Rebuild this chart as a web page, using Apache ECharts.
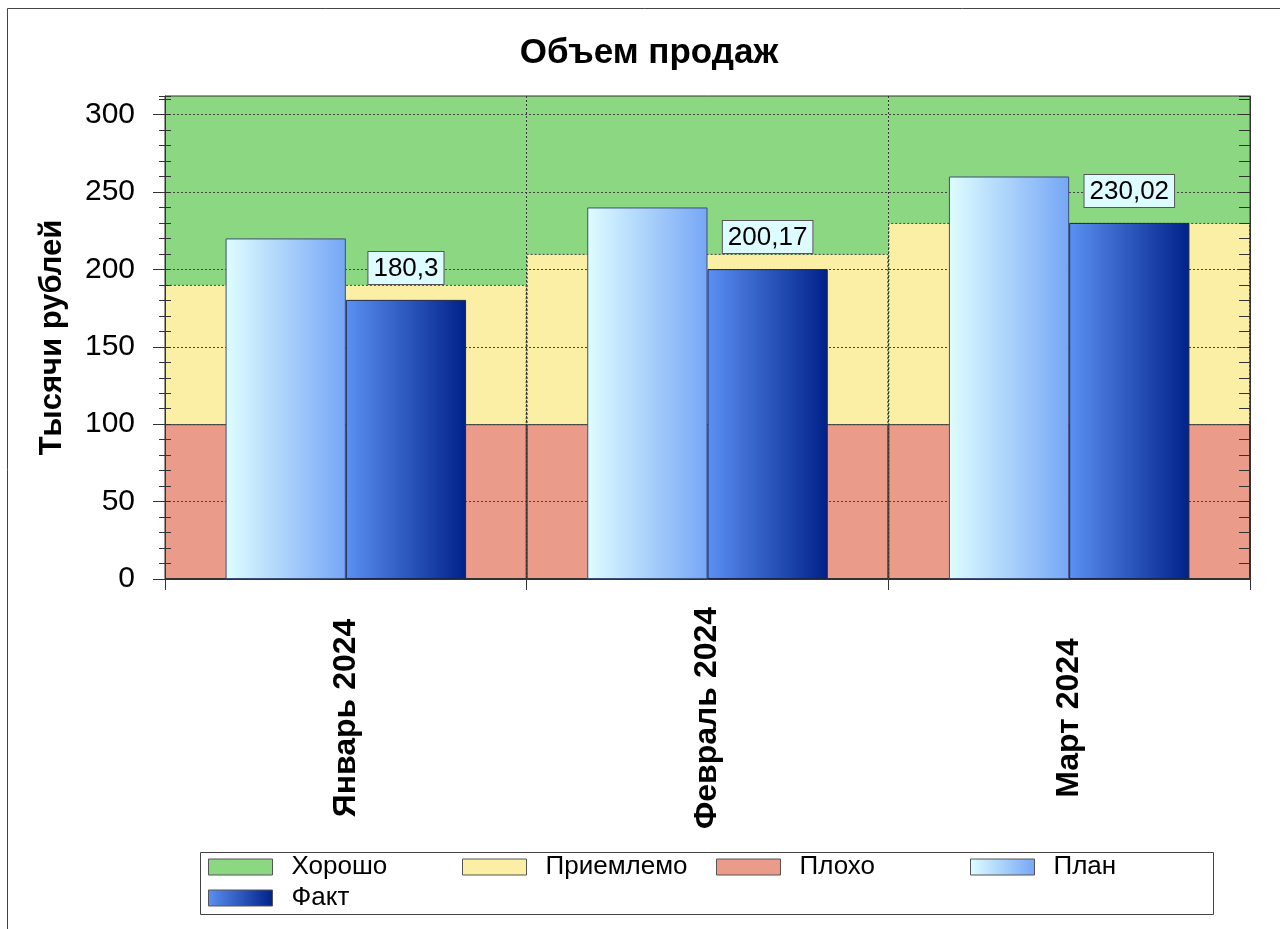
<!DOCTYPE html>
<html>
<head>
<meta charset="utf-8">
<script src="https://cdn.jsdelivr.net/npm/echarts@6/dist/echarts.min.js"></script>
<style>html,body{margin:0;padding:0;background:#fff}#c{width:1280px;height:929px}</style>
</head>
<body>
<div id="c"></div>
<script>
// ---- data ----
const categories = ['Январь 2024', 'Февраль 2024', 'Март 2024'];
const plan = [220, 240, 260];
const fact = [180.3, 200.17, 230.02];
const bandPoorTop = [100, 100, 100];       // Плохо: 0..100
const bandAcceptTop = [190, 210, 230];     // Приемлемо: 100..x
const axisMax = 312;
const bandGoodTop = [axisMax, axisMax, axisMax]; // Хорошо: x..top
const yMajorTicks = [0, 50, 100, 150, 200, 250, 300];

const FONT = "'Liberation Sans', Arial, sans-serif";
const chart = echarts.init(document.getElementById('c'), null, {renderer: 'canvas'});

const planGrad = new echarts.graphic.LinearGradient(0, 0, 1, 0, [
  {offset: 0, color: '#defdff'}, {offset: 1, color: '#76a6f6'}]);
const factGrad = new echarts.graphic.LinearGradient(0, 0, 1, 0, [
  {offset: 0, color: '#5b90f2'}, {offset: 1, color: '#00218a'}]);

function legendItem(name, left, top) {
  return {
    data: [name], left: left, top: top, padding: 0,
    itemWidth: 64, itemHeight: 16, icon: 'rect',
    itemStyle: {borderColor: '#555', borderWidth: 1, borderType: 'solid'},
    textStyle: {fontFamily: FONT, fontSize: 26, color: '#000', lineHeight: 30, padding: [0, 0, 0, 14]},
    selectedMode: false
  };
}

const option = {
  animation: false,
  title: {
    text: 'Объем продаж', left: 644, top: 31, textAlign: 'center',
    textStyle: {fontFamily: FONT, fontSize: 35, fontWeight: 'bold', color: '#000'}
  },
  graphic: [
    {type: 'rect', shape: {x: 7.5, y: 8.5, width: 1400, height: 1000}, style: {fill: 'none', stroke: '#444', lineWidth: 1}, silent: true},
    {type: 'rect', shape: {x: 200.5, y: 852.5, width: 1013, height: 62}, style: {fill: 'none', stroke: '#444', lineWidth: 1}, silent: true, z: -10}
  ],
  legend: [
    legendItem('Хорошо', 208, 852),
    legendItem('Приемлемо', 462, 852),
    legendItem('Плохо', 716, 852),
    legendItem('План', 970, 852),
    legendItem('Факт', 208, 883)
  ],
  grid: {left: 165, right: 30, top: 96, bottom: 350, show: true, borderColor: '#333', borderWidth: 1, backgroundColor: 'transparent'},
  xAxis: [
    {
      type: 'category', data: categories, position: 'bottom', boundaryGap: true,
      axisLine: {show: true, lineStyle: {color: '#333', width: 1}},
      axisTick: {show: true, length: 11, interval: 0, lineStyle: {color: '#333'}},
      axisLabel: {rotate: 90, align: 'center', verticalAlign: 'middle', margin: 139, fontFamily: FONT, fontSize: 32,
        fontWeight: 'bold', color: '#000', interval: 0},
      splitLine: {show: true, interval: 0, lineStyle: {color: '#333', type: [2, 2], width: 1}}
    },
    {type: 'category', data: categories, show: false, position: 'bottom'}
  ],
  yAxis: [
    {
      type: 'value', min: 0, max: axisMax, interval: 50, position: 'left',
      name: 'Тысячи рублей', nameLocation: 'middle', nameGap: 97, nameRotate: 90,
      nameTextStyle: {fontFamily: FONT, fontSize: 31, fontWeight: 'bold', color: '#000'},
      axisLine: {show: true, lineStyle: {color: '#333'}},
      axisTick: {show: true, length: 12, customValues: yMajorTicks, lineStyle: {color: '#333'}},
      axisLabel: {customValues: yMajorTicks, margin: 30, fontFamily: FONT, fontSize: 30, color: '#000',
        formatter: v => (v % 50 === 0 ? String(v) : '')},
      splitLine: {show: true, lineStyle: {color: '#444', type: [2, 2], width: 1}}
    },
    {
      type: 'value', min: 0, max: axisMax, interval: 10, position: 'left', offset: -6,
      axisLine: {show: false}, axisTick: {show: true, length: 12, lineStyle: {color: '#333'}},
      axisLabel: {show: false}, splitLine: {show: false}
    },
    {
      type: 'value', min: 0, max: axisMax, interval: 10, position: 'right',
      axisLine: {show: true, lineStyle: {color: '#333'}},
      axisTick: {show: true, inside: true, length: 11, lineStyle: {color: '#333'}},
      axisLabel: {show: false}, splitLine: {show: false}
    }
  ],
  series: [
    {name: 'Хорошо', type: 'bar', xAxisIndex: 0, yAxisIndex: 0, data: bandGoodTop, z: -1,
      barCategoryGap: '0%', barGap: '-100%', itemStyle: {color: '#8cd782'}},
    {name: 'Приемлемо', type: 'bar', xAxisIndex: 0, yAxisIndex: 0, data: bandAcceptTop, z: -1,
      barGap: '-100%', itemStyle: {color: '#fbefa6', borderColor: '#444', borderWidth: 1, borderType: [2, 2]}},
    {name: 'Плохо', type: 'bar', xAxisIndex: 0, yAxisIndex: 0, data: bandPoorTop, z: -1,
      barGap: '-100%', itemStyle: {color: '#eb9b8a', borderColor: '#333', borderWidth: 1}},
    {name: 'План', type: 'bar', xAxisIndex: 1, yAxisIndex: 0, data: plan, z: 3,
      barCategoryGap: '33.5%', barGap: '0%', itemStyle: {color: planGrad, borderColor: '#3d4f78', borderWidth: 1}},
    {name: 'Факт', type: 'bar', xAxisIndex: 1, yAxisIndex: 0, data: fact, z: 3,
      barGap: '0%', itemStyle: {color: factGrad, borderColor: '#1c2748', borderWidth: 1},
      label: {show: true, position: 'top', distance: 16, fontFamily: FONT, fontSize: 26, color: '#000',
        backgroundColor: '#ddfcff', borderColor: '#555', borderWidth: 1, padding: [2, 5, 0, 5], lineHeight: 30,
        formatter: p => String(p.value).replace('.', ',')}}
  ]
};
chart.setOption(option);
</script>
</body>
</html>
